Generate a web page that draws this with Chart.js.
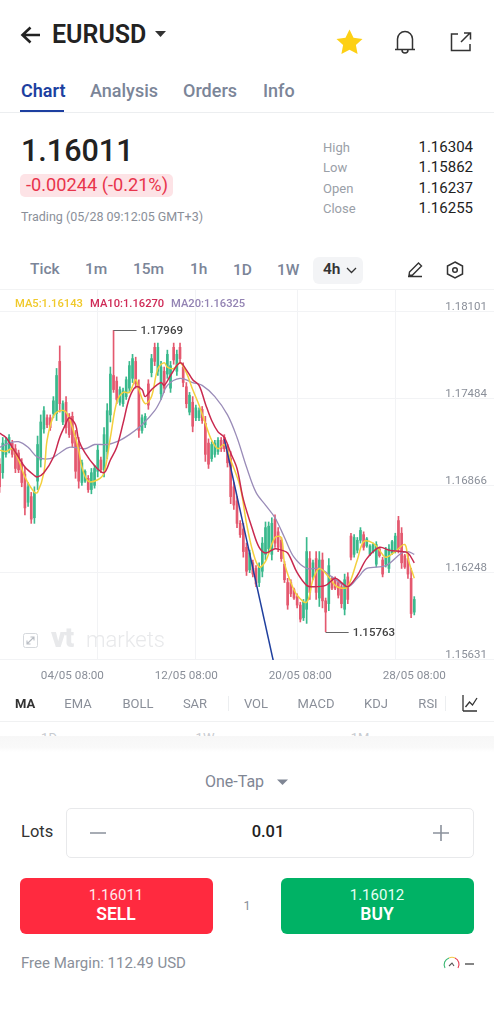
<!DOCTYPE html>
<html><head><meta charset="utf-8">
<script src="https://cdn.jsdelivr.net/npm/chart.js@4"></script>
<style>
html,body{margin:0;padding:0;background:#fff}
body{width:494px;height:1024px;overflow:hidden;position:relative;font-family:Roboto,sans-serif}
.t{position:absolute;white-space:nowrap;transform:translateY(-50%);line-height:1}
.c{transform:translate(-50%,-50%)}
.r{transform:translate(-100%,-50%)}
.b{position:absolute}
svg{position:absolute;overflow:visible}
#wrap{position:absolute;left:-2px;top:290px;width:497px;height:395px}
</style></head><body>
<div class="b" style="left:313px;top:257px;width:50px;height:27px;background:#f3f4f6;border-radius:6px"></div>
<svg style="left:0;top:0" width="494" height="1024" viewBox="0 0 494 1024" fill="none">
<path d="M40 35H23M30.5 27.5L22.5 35l8 7.5" stroke="#222" stroke-width="2.6"/>
<path d="M155 31h11l-5.5 6z" fill="#333"/>
<path d="M349.5 29.5l4 8.2 9 1.2-6.6 6.2 1.7 9-8.1-4.4-8.1 4.4 1.7-9-6.6-6.2 9-1.2z" fill="#fdd015"/>
<path d="M395 49.5h20M397.5 49.5V39a7.5 7.5 0 0 1 15 0v10.5M402 50a3 3 0 0 0 6 0" stroke="#333" stroke-width="1.5"/>
<path d="M458 34h-6.500v16.500H470V44M461 42l9-9M464 33h6.500v6.500" stroke="#333" stroke-width="1.5"/>
<path d="M408 276.500h14M409.500 272l9-9 3 3-9 9-3.500.5z" stroke="#333" stroke-width="1.4"/>
<path d="M455 262l7.500 4v8l-7.500 4-7.500-4v-8z" stroke="#333" stroke-width="1.5"/><circle cx="455" cy="270" r="2.300" stroke="#333" stroke-width="1.500"/>
<path d="M347 268l4.500 4.500 4.500-4.500" stroke="#333" stroke-width="1.300"/>
<rect x="23.500" y="633.500" width="14" height="14" rx="2" stroke="#d5d8dc"/>
<path d="M27 644l7-7M30.500 637H34v3.500M27 640.500V644h3.500" stroke="#b9bdc4" stroke-width="1.100"/>
<path d="M465.500 707l4-5 3 3 4.500-7M463 711h14M463 695v16" stroke="#333" stroke-width="1.300"/>
<path d="M277 779.500h11l-5.500 5.500z" fill="#7f8694"/>
<path d="M90 833h16M433 833h16M441 825v16" stroke="#8b919c" stroke-width="1.600"/>
<path d="M445 968a7 7 0 0 1 4-10" stroke="#3bb873" stroke-width="1.100"/>
<path d="M449 958a7 7 0 0 1 6 0" stroke="#f2c84b" stroke-width="1.100"/>
<path d="M455 958a7 7 0 0 1 3 10" stroke="#e8354c" stroke-width="1.100"/>
<path d="M449 966l3-3 2 3" stroke="#555" stroke-width="1.100"/>
<path d="M465 964h9" stroke="#666" stroke-width="1.600"/>
</svg>

<div class="t" style="left:52px;top:34px;font-size:25px;font-weight:600;color:#222">EURUSD</div>

<div class="t" style="left:21px;top:91px;font-size:18px;font-weight:600;color:#1d3fa0">Chart</div>
<div class="t" style="left:90px;top:91px;font-size:18px;font-weight:500;color:#7b8598">Analysis</div>
<div class="t" style="left:183px;top:91px;font-size:18px;font-weight:500;color:#7b8598">Orders</div>
<div class="t" style="left:263px;top:91px;font-size:18px;font-weight:500;color:#7b8598">Info</div>
<div class="b" style="left:20px;top:110px;width:44px;height:2px;background:#1d3fa0"></div>
<div class="b" style="left:0;top:112px;width:494px;height:1px;background:#eceef0"></div>

<div class="t" style="left:21px;top:151px;font-size:30.500px;font-weight:500;color:#222">1.16011</div>
<div class="b" style="left:20px;top:174px;width:153px;height:23px;background:#fde3e6;border-radius:5px"></div>
<div class="t" style="left:26px;top:185px;font-size:18.200px;color:#e8354c">-0.00244 (-0.21%)</div>
<div class="t" style="left:21px;top:217px;font-size:12.500px;color:#8a8f99">Trading (05/28 09:12:05 GMT+3)</div>

<div class="t" style="left:323px;top:147px;font-size:13px;color:#9aa0a8">High</div>
<div class="t" style="left:323px;top:167px;font-size:13px;color:#9aa0a8">Low</div>
<div class="t" style="left:323px;top:188px;font-size:13px;color:#9aa0a8">Open</div>
<div class="t" style="left:323px;top:208px;font-size:13px;color:#9aa0a8">Close</div>
<div class="t r" style="left:473px;top:147px;font-size:15px;color:#222">1.16304</div>
<div class="t r" style="left:473px;top:167px;font-size:15px;color:#222">1.15862</div>
<div class="t r" style="left:473px;top:188px;font-size:15px;color:#222">1.16237</div>
<div class="t r" style="left:473px;top:208px;font-size:15px;color:#222">1.16255</div>

<div class="t" style="left:30px;top:270px;font-size:15.500px;font-weight:500;color:#7b8598">Tick</div>
<div class="t" style="left:85px;top:270px;font-size:15.500px;font-weight:500;color:#7b8598">1m</div>
<div class="t" style="left:133px;top:270px;font-size:15.500px;font-weight:500;color:#7b8598">15m</div>
<div class="t" style="left:190px;top:270px;font-size:15.500px;font-weight:500;color:#7b8598">1h</div>
<div class="t" style="left:233px;top:271px;font-size:15.500px;font-weight:500;color:#7b8598">1D</div>
<div class="t" style="left:277px;top:271px;font-size:15.500px;font-weight:500;color:#7b8598">1W</div>
<div class="t" style="left:323px;top:270px;font-size:15.500px;font-weight:600;color:#333">4h</div>
<div class="b" style="left:0;top:289px;width:494px;height:1px;background:#f2f3f4"></div>

<div id="wrap"><canvas id="c" width="497" height="395"></canvas></div>

<div class="t" style="left:15px;top:304px;font-size:11.200px;font-weight:500;color:#f0c92a">MA5:1.16143</div>
<div class="t" style="left:90px;top:304px;font-size:11.200px;font-weight:500;color:#cf2a56">MA10:1.16270</div>
<div class="t" style="left:171px;top:304px;font-size:11.200px;font-weight:500;color:#9383b3">MA20:1.16325</div>

<div class="t" style="left:51px;top:638px;font-size:28px;font-weight:900;color:#e8e9eb;letter-spacing:-1px">vt</div>
<div class="t" style="left:86px;top:640px;font-size:22px;font-weight:300;color:#e8e9eb">markets</div>

<div class="t" style="left:15px;top:703px;font-size:13px;font-weight:700;color:#333">MA</div>
<div class="t c" style="left:78px;top:703px;font-size:13px;color:#8a8f99">EMA</div>
<div class="t c" style="left:138px;top:703px;font-size:13px;color:#8a8f99">BOLL</div>
<div class="t c" style="left:195px;top:703px;font-size:13px;color:#8a8f99">SAR</div>
<div class="b" style="left:228px;top:696px;width:1px;height:15px;background:#eceef0"></div>
<div class="t c" style="left:256px;top:703px;font-size:13px;color:#8a8f99">VOL</div>
<div class="t c" style="left:316px;top:703px;font-size:13px;color:#8a8f99">MACD</div>
<div class="t c" style="left:376px;top:703px;font-size:13px;color:#8a8f99">KDJ</div>
<div class="t c" style="left:428px;top:703px;font-size:13px;color:#8a8f99">RSI</div>
<div class="b" style="left:445px;top:696px;width:1px;height:15px;background:#eceef0"></div>
<div class="b" style="left:0;top:721px;width:494px;height:1px;background:#f0f1f2"></div>
<div class="t c" style="left:49px;top:737px;font-size:13px;color:#c8cbd0">1D</div>
<div class="t c" style="left:205px;top:737px;font-size:13px;color:#c8cbd0">1W</div>
<div class="t c" style="left:360px;top:737px;font-size:13px;color:#c8cbd0">1M</div>
<div class="b" style="left:0;top:736px;width:494px;height:16px;background:linear-gradient(#f7f7f7,#f9f9f9 70%,#fff)"></div>

<div class="t" style="left:205px;top:782px;font-size:16px;color:#7f8694">One-Tap</div>
<div class="t" style="left:21px;top:832px;font-size:16.500px;color:#333">Lots</div>
<div class="b" style="left:66px;top:808px;width:406px;height:48px;border:1px solid #e8e9eb;border-radius:5px"></div>
<div class="t c" style="left:268px;top:832px;font-size:16.500px;font-weight:500;color:#222">0.01</div>

<div class="b" style="left:20px;top:878px;width:193px;height:56px;background:#ff2a3f;border-radius:6px"></div>
<div class="t c" style="left:116px;top:895px;font-size:15px;color:#ffe9eb">1.16011</div>
<div class="t c" style="left:116px;top:915px;font-size:17.500px;font-weight:600;color:#fff">SELL</div>
<div class="t c" style="left:247px;top:906px;font-size:12.500px;color:#8a8f99">1</div>
<div class="b" style="left:281px;top:878px;width:193px;height:56px;background:#00b265;border-radius:6px"></div>
<div class="t c" style="left:377px;top:895px;font-size:15px;color:#e6fff3">1.16012</div>
<div class="t c" style="left:377px;top:915px;font-size:17.500px;font-weight:600;color:#fff">BUY</div>
<div class="t" style="left:21px;top:963px;font-size:15px;color:#8a8f99">Free Margin: 112.49 USD</div>

<script>
const yTicks=[1.18101,1.17484,1.16866,1.16248,1.15631];
const xTickLabels=['04/05 08:00','12/05 08:00','20/05 08:00','28/05 08:00'];
const xGridSlots=[31,62,94,125];
const highLabel='1.17969', lowLabel='1.15763';
const highAt=36, lowAt=103;

const highs=[1.1706,1.1721,1.1721,1.1723,1.1719,1.1716,1.1712,1.1706,1.17,1.1689,
1.1682,1.1686,1.1722,1.1737,1.1743,1.1737,1.1737,1.175,1.177,1.1786,
1.1747,1.175,1.1738,1.1739,1.1726,1.1721,1.1705,1.1698,1.1694,1.1699,
1.1701,1.1716,1.1707,1.1728,1.1745,1.1771,1.1797,1.1764,1.1757,1.1756,
1.1764,1.1775,1.178,1.1778,1.1762,1.1737,1.1738,1.1762,1.178,1.1788,
1.1788,1.1775,1.1771,1.1783,1.1775,1.1788,1.1783,1.1788,1.1774,1.176,
1.1753,1.175,1.1744,1.1742,1.1743,1.1736,1.172,1.1718,1.1719,1.1721,
1.1721,1.1723,1.1716,1.1711,1.1689,1.1679,1.1662,1.166,1.1646,1.1641,
1.1634,1.163,1.1632,1.165,1.1661,1.1661,1.1664,1.1666,1.1657,1.165,
1.1633,1.1621,1.162,1.1614,1.161,1.1604,1.1606,1.165,1.164,1.1634,
1.164,1.164,1.1639,1.1607,1.1635,1.1622,1.1622,1.162,1.1618,1.1624,
1.1625,1.1653,1.1652,1.165,1.1657,1.1654,1.165,1.1645,1.1646,1.1647,
1.1643,1.1636,1.1643,1.1645,1.1648,1.1653,1.1665,1.1657,1.1638,1.1638,
1.1628,1.1608];
const lows=[1.1682,1.1692,1.1707,1.171,1.1707,1.1696,1.1696,1.1686,1.1666,1.1672,
1.166,1.166,1.1684,1.17,1.1724,1.1728,1.1726,1.1735,1.1733,1.1739,
1.173,1.1724,1.1721,1.1714,1.1692,1.1685,1.1687,1.1689,1.1682,1.1681,
1.1685,1.1693,1.1696,1.1693,1.1706,1.1732,1.1753,1.1745,1.1744,1.1743,
1.1748,1.1753,1.176,1.1756,1.1721,1.1724,1.1728,1.1741,1.1764,1.1772,
1.1765,1.1748,1.1753,1.1763,1.1753,1.1773,1.1765,1.1774,1.1757,1.1742,
1.1737,1.1725,1.1733,1.1733,1.1731,1.1704,1.1699,1.1704,1.1707,1.1709,
1.1711,1.1711,1.17,1.1674,1.167,1.1657,1.165,1.1636,1.1623,1.1625,
1.1622,1.1615,1.1615,1.1622,1.1634,1.1639,1.1634,1.1643,1.164,1.1633,
1.1618,1.1599,1.1608,1.1606,1.16,1.159,1.1591,1.1589,1.1606,1.162,
1.1606,1.1601,1.16,1.1583,1.1598,1.1613,1.1613,1.1607,1.16,1.1595,
1.1603,1.1634,1.1636,1.1639,1.1646,1.1641,1.1643,1.1637,1.1639,1.1629,
1.1636,1.1622,1.1629,1.1625,1.1638,1.1639,1.1639,1.1628,1.1628,1.1621,
1.1593,1.1595];
const opens=[1.1702,1.1696,1.1709,1.1712,1.1717,1.1713,1.171,1.1703,1.1695,1.1675,
1.1679,1.1664,1.169,1.1705,1.1727,1.1735,1.1735,1.1738,1.1738,1.1775,
1.1732,1.1746,1.1736,1.1736,1.1721,1.1716,1.1689,1.169,1.1692,1.1684,
1.1687,1.1697,1.1705,1.1698,1.1711,1.1737,1.1765,1.1761,1.1746,1.1745,
1.175,1.1756,1.1763,1.1775,1.1757,1.1726,1.173,1.1759,1.1767,1.1785,
1.1768,1.1752,1.1768,1.1766,1.1756,1.1785,1.1768,1.1785,1.1771,1.1757,
1.1739,1.1746,1.1735,1.1735,1.1741,1.1731,1.1717,1.1706,1.1709,1.1711,
1.1719,1.1721,1.1713,1.1706,1.1686,1.1676,1.166,1.1656,1.1643,1.1627,
1.1632,1.1628,1.1618,1.1626,1.1638,1.1642,1.1638,1.1663,1.1654,1.1648,
1.1631,1.1618,1.1618,1.1613,1.1608,1.1602,1.1593,1.1599,1.1635,1.1622,
1.1635,1.1607,1.1634,1.1605,1.1603,1.1621,1.1621,1.1618,1.1615,1.1599,
1.1622,1.1651,1.1638,1.1641,1.1648,1.1652,1.1644,1.1638,1.164,1.1631,
1.1642,1.1634,1.1631,1.1628,1.1639,1.1641,1.1662,1.1653,1.1637,1.1635,
1.1621,1.1597];
const closes=[1.1686,1.1717,1.1719,1.1721,1.1709,1.1699,1.1698,1.1689,1.1671,1.1686,
1.1663,1.1682,1.1716,1.1732,1.174,1.173,1.1728,1.1747,1.1765,1.1745,
1.1745,1.1728,1.1723,1.1717,1.1697,1.169,1.1703,1.1697,1.1684,1.1696,
1.1699,1.1712,1.1698,1.1723,1.174,1.1766,1.1755,1.1748,1.1755,1.1754,
1.1762,1.1772,1.1777,1.1759,1.1726,1.1735,1.1736,1.1744,1.1777,1.1775,
1.1785,1.1771,1.1756,1.178,1.1772,1.1776,1.178,1.1777,1.176,1.1745,
1.1751,1.1729,1.1742,1.174,1.1733,1.1709,1.1702,1.1716,1.1717,1.1719,
1.1713,1.1713,1.1703,1.1679,1.1673,1.166,1.1652,1.164,1.1626,1.1639,
1.1624,1.1617,1.1629,1.1646,1.1657,1.1658,1.166,1.1646,1.1643,1.1635,
1.162,1.1602,1.161,1.1607,1.1602,1.1592,1.1604,1.164,1.1611,1.1632,
1.1611,1.1634,1.1605,1.1597,1.163,1.1614,1.1614,1.1609,1.1603,1.162,
1.1606,1.1636,1.165,1.1648,1.1655,1.1643,1.1649,1.1644,1.1645,1.1645,
1.1637,1.1624,1.1641,1.1642,1.1647,1.1651,1.1642,1.1632,1.1629,1.1624,
1.1596,1.1606];

const ma5Slots=[0,2,4,6,8,11,12,14,15,17,19,21,23,25,26,28,31,33,35,37,39,41,43,44,46,48,50,52,53,55,57,59,61,63,65,67,69,71,73,76,78,80,82,84,87,89,90,92,94,97,99,101,104,106,108,110,113,115,118,120,122,125,128,129,131];
const ma5=[1.1712,1.1711,1.1713,1.1705,1.1693,1.1682,1.1682,1.1696,1.1719,1.1736,
1.174,1.1739,1.1728,1.1712,1.17,1.169,1.1691,1.1696,1.1721,1.1746,
1.1753,1.1753,1.1762,1.1755,1.1745,1.175,1.177,1.1774,1.1771,1.177,
1.1774,1.1767,1.1755,1.1744,1.1731,1.1719,1.1713,1.1716,1.1705,1.1686,
1.166,1.164,1.1629,1.1633,1.165,1.165,1.1632,1.1618,1.1609,1.1604,
1.162,1.1628,1.1622,1.1616,1.1614,1.1615,1.1634,1.1647,1.1646,1.1641,
1.1636,1.164,1.1645,1.1635,1.1621];
const ma10Slots=[0,2,4,6,8,11,12,14,17,19,21,22,24,25,27,30,33,35,37,39,41,43,45,46,48,51,52,54,57,59,61,63,65,67,69,71,73,75,77,80,82,84,87,89,91,94,97,99,103,106,108,110,113,116,120,123,127,129,131];
const ma10=[1.1724,1.1721,1.1714,1.1707,1.17,1.1694,1.1693,1.1696,1.1707,1.1721,
1.1731,1.1735,1.173,1.1719,1.171,1.1701,1.1696,1.1705,1.1714,1.1731,
1.1749,1.1757,1.1755,1.175,1.1755,1.176,1.1758,1.1765,1.1774,1.1769,
1.1762,1.1758,1.1745,1.1733,1.1725,1.1721,1.171,1.1699,1.1677,1.1655,
1.1643,1.1639,1.1642,1.1641,1.1639,1.1625,1.1616,1.1615,1.1616,1.1621,
1.1618,1.1615,1.1623,1.1635,1.1643,1.1641,1.164,1.1639,1.1632];
const ma20Slots=[0,3,6,9,12,16,19,22,27,30,34,38,41,45,49,51,53,57,61,64,68,72,75,78,81,84,87,90,93,97,101,105,110,113,116,122,127,129,131];
const ma20=[1.1714,1.1717,1.1718,1.1714,1.1707,1.1706,1.171,1.1714,1.1713,1.1716,
1.1716,1.1719,1.1723,1.173,1.174,1.1748,1.1758,1.1763,1.176,1.1758,
1.175,1.1737,1.1721,1.17,1.1682,1.1673,1.1664,1.165,1.1636,1.1628,
1.1628,1.1622,1.1615,1.1621,1.1628,1.163,1.1639,1.164,1.1638];
const trendSlots=[71,87];
const trend=[1.172,1.1557];

const slotCount=157;
const lastBar=highs.length-1;
const categories=new Array(slotCount).fill('');
(function(){
  const pad=n=>String(n).padStart(2,'0');
  let t=Date.UTC(2026,4,28,8);
  for(let i=lastBar;i>=0;i--){
    const d=new Date(t);
    categories[i]=pad(d.getUTCDate())+'/'+pad(d.getUTCMonth()+1)+' '+pad(d.getUTCHours())+':00';
    t-=4*3600e3;
    while([0,6].includes(new Date(t).getUTCDay())) t-=4*3600e3;
  }
})();

const red='#e4596f', green='#3ab98d';
const barColors=closes.map((c,i)=>c<opens[i]?red:green);
function sparse(slots,vals){const a=new Array(lastBar+1).fill(null);slots.forEach((s,j)=>a[s]=vals[j]);return a;}
function line(label,slots,vals,color,w,order){
  return {type:'line',label,data:sparse(slots,vals),borderColor:color,backgroundColor:color,borderWidth:w,
    pointRadius:0,spanGaps:true,tension:0.35,order};
}

const extremeLabels={id:'extremeLabels',afterDatasetsDraw(chart){
  const {ctx,scales:{x,y}}=chart;
  const draw=(i,v,txt)=>{
    const px=x.getPixelForValue(i),py=Math.round(y.getPixelForValue(v))+.5;
    ctx.save();
    ctx.strokeStyle='#666';ctx.lineWidth=1;
    ctx.beginPath();ctx.moveTo(px,py);ctx.lineTo(px+23,py);ctx.stroke();
    ctx.fillStyle='#444';ctx.font='500 11.5px Roboto';ctx.textBaseline='middle';ctx.textAlign='left';
    ctx.fillText(txt,px+27,py+.5);
    ctx.restore();
  };
  draw(highAt,highs[highAt],highLabel);
  draw(lowAt,lows[lowAt],lowLabel);
}};

const noPad=a=>{a.paddingLeft=a.paddingRight=a.paddingTop=a.paddingBottom=0;};
const gridCol='#f2f3f5';
new Chart(document.getElementById('c'),{
  type:'bar',
  data:{labels:categories,datasets:[
    line('MA5',ma5Slots,ma5,'#f3d03e',1.5,3),
    line('MA10',ma10Slots,ma10,'#c9294f',1.5,1),
    line('MA20',ma20Slots,ma20,'#9a8cb8',1.3,4),
    line('Trend',trendSlots,trend,'#1f3f9e',1.5,2),
    {type:'bar',label:'Body',data:opens.map((o,i)=>[o,closes[i]]),backgroundColor:barColors,barThickness:2,grouped:false,order:6},
    {type:'bar',label:'Wick',data:lows.map((l,i)=>[l,highs[i]]),backgroundColor:barColors,barThickness:1,grouped:false,order:7}
  ]},
  plugins:[extremeLabels],
  options:{
    responsive:false,animation:false,events:[],
    layout:{padding:0},
    plugins:{legend:{display:false},tooltip:{enabled:false},title:{display:false}},
    scales:{
      x:{type:'category',position:'bottom',offset:true,
        grid:{display:false},border:{display:false},
        afterFit(a){a.height=25;noPad(a);},
        ticks:{autoSkip:false,maxRotation:0,minRotation:0,padding:1,color:'#8a8f99',font:{family:'Roboto',size:11.7},
          callback(v,i){const s=categories[i];return xTickLabels.includes(s)?s:'';}}},
      xg:{type:'category',axis:'x',position:'bottom',offset:true,labels:categories,
        border:{display:false},afterFit(a){a.height=0;noPad(a);},
        grid:{offset:false,drawTicks:false,color:c=>xGridSlots.includes(c.index)?gridCol:'rgba(0,0,0,0)'},
        ticks:{display:false,autoSkip:false}},
      y:{type:'linear',position:'right',min:1.1563,max:1.18257,
        border:{display:false},afterFit(a){a.width=0;noPad(a);},
        afterBuildTicks(a){a.ticks=yTicks.map(v=>({value:v}));},
        grid:{color:gridCol,drawTicks:false},
        ticks:{mirror:true,padding:-8,labelOffset:-5,color:'#8a8f99',font:{family:'Roboto',size:11.5},
          callback:v=>v.toFixed(5)}}
    }
  }
});
</script>
</body></html>
